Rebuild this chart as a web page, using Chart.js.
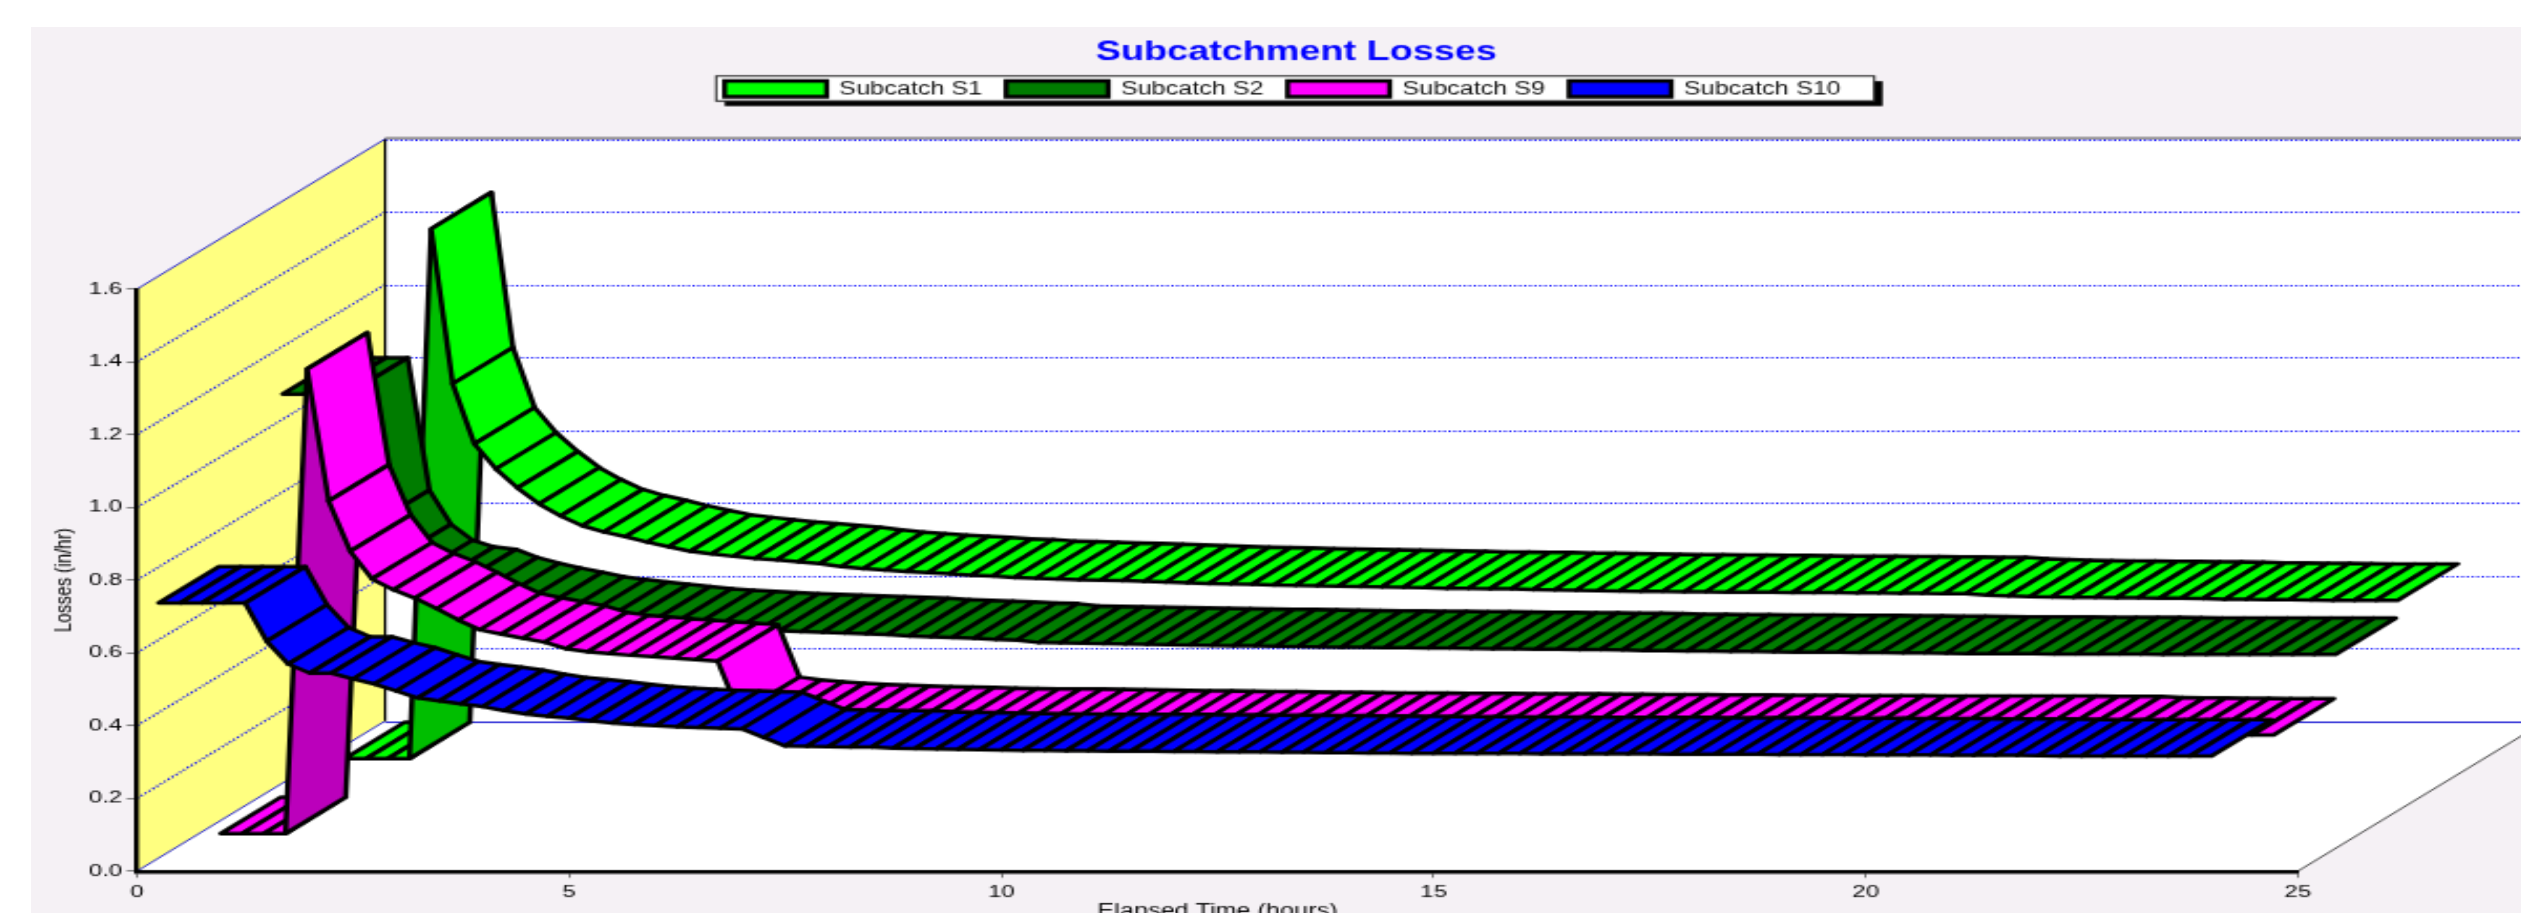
<!DOCTYPE html>
<html><head><meta charset="utf-8">
<script src="https://cdn.jsdelivr.net/npm/chart.js@4"></script>
<style>
html,body{margin:0;padding:0;width:2521px;height:913px;overflow:hidden;background:#fff}
#panel{position:absolute;left:31px;top:27px;width:2490px;height:886px;background:#F5F1F5}
#chart{position:absolute;left:31px;top:27px;transform-origin:0 0;transform:scale(2.1,1.5)}
</style></head><body>
<div id="panel"></div>
<canvas id="chart" width="1205" height="615"></canvas>
<script>
const chartTitle = 'Subcatchment Losses';
const xTitle = 'Elapsed Time (hours)';
const yTitle = 'Losses (in/hr)';
const seriesNames = ['Subcatch S1','Subcatch S2','Subcatch S9','Subcatch S10'];
const seriesColors = ['#00FF00','#007C00','#FF00FF','#0000FF'];
const sideColors = ['#00BE00','#005C00','#BB00BB','#0000BB'];
const times = [0.25,0.5,0.75,1,1.25,1.5,1.75,2,2.25,2.5,2.75,3,3.25,3.5,3.75,4,4.25,4.5,4.75,5,5.25,5.5,5.75,6,
6.25,6.5,6.75,7,7.25,7.5,7.75,8,8.25,8.5,8.75,9,9.25,9.5,9.75,10,10.25,10.5,10.75,11,11.25,11.5,11.75,12,
12.25,12.5,12.75,13,13.25,13.5,13.75,14,14.25,14.5,14.75,15,15.25,15.5,15.75,16,16.25,16.5,16.75,17,17.25,17.5,17.75,18,
18.25,18.5,18.75,19,19.25,19.5,19.75,20,20.25,20.5,20.75,21,21.25,21.5,21.75,22,22.25,22.5,22.75,23,23.25,23.5,23.75,24];
const s1 = [0,0,0,0,1.456,1.03,.865,.796,.744,.70,.667,.64,.623,.61,.595,.582,.57,.563,.556,.55,.546,.541,.536,.528,
.522,.518,.514,.511,.508,.504,.502,.498,.496,.494,.492,.491,.489,.487,.485,.483,.481,.480,.479,.477,.476,.475,.474,.473,
.472,.471,.470,.468,.468,.467,.467,.465,.464,.463,.462,.461,.460,.460,.459,.459,.458,.458,.457,.4565,.456,.456,.455,.455,
.454,.454,.453,.453,.449,.447,.445,.444,.443,.443,.442,.442,.441,.441,.440,.4375,.4375,.437,.437,.436,.435,.435,.435,.435];
const s2 = [1.105,1.105,1.105,1.105,.741,.647,.603,.585,.578,.556,.54,.527,.515,.503,.495,.488,.482,.476,.47,.466,.462,.459,.456,.454,
.452,.45,.448,.446,.444,.44,.438,.436,.434,.431,.429,.422,.421,.42,.419,.418,.417,.416,.415,.414,.413,.413,.412,.411,
.41,.409,.409,.408,.408,.407,.407,.406,.405,.405,.404,.404,.403,.403,.402,.400,.400,.399,.399,.398,.398,.397,.396,.396,
.396,.395,.395,.394,.394,.393,.392,.392,.392,.392,.391,.391,.391,.391,.390,.3895,.3895,.3895,.3895,.3895,.3895,.3895,.3895,.3895];
const s9 = [0,0,0,0,1.277,.914,.776,.70,.67,.647,.618,.587,.56,.548,.537,.526,.508,.50,.495,.49,.486,.482,.478,.474,
.33,.322,.317,.313,.31,.308,.306,.304,.303,.3015,.30,.299,.298,.2975,.297,.296,.295,.294,.293,.2925,.292,.291,.2905,.29,
.289,.288,.288,.287,.2865,.286,.286,.285,.285,.285,.2845,.2845,.284,.284,.283,.283,.282,.282,.282,.281,.281,.281,.28,.28,
.28,.279,.279,.279,.279,.278,.278,.278,.278,.278,.278,.278,.278,.277,.277,.277,.274,.273,.273,.272,.272,.271,.271,.271];
const s10 = [.737,.737,.737,.737,.737,.632,.569,.544,.544,.528,.514,.495,.476,.468,.460,.452,.441,.432,.426,.42,.413,.407,.403,.40,
.397,.395,.393,.391,.367,.344,.343,.342,.341,.341,.338,.337,.336,.335,.334,.333,.332,.332,.331,.331,.33,.33,.33,.329,
.329,.328,.328,.328,.327,.327,.326,.326,.325,.325,.324,.324,.324,.323,.323,.323,.322,.322,.322,.322,.322,.322,.321,.321,
.321,.321,.321,.32,.32,.32,.32,.319,.319,.319,.319,.318,.318,.318,.318,.317,.316,.316,.316,.316,.316,.316,.316,.316];
const allSeries = [s1,s2,s9,s10];
const depthStart = [0.75,0.5,0.25,0];
const depthStep = 0.243;
const depthHours = 2.869;
const depthValue = 0.4124;
const gridLevels = [0.2,0.4,0.6,0.8,1.0,1.2,1.4];
const xMax = 25, yMax = 1.6;

function project(c,t,v,z){return [c.scales.x.getPixelForValue(t+z*depthHours),c.scales.y.getPixelForValue(v+z*depthValue)];}
function poly(ctx,pts){ctx.beginPath();pts.forEach((p,i)=>i?ctx.lineTo(p[0],p[1]):ctx.moveTo(p[0],p[1]));ctx.closePath();}
function seg(ctx,a,b){ctx.beginPath();ctx.moveTo(a[0],a[1]);ctx.lineTo(b[0],b[1]);ctx.stroke();}
function snap(p){return [p[0],Math.round(p[1])+0.5];}

const scene = {
  id:'scene',
  beforeInit(chart){
    const fit = chart.legend.fit;
    chart.legend.fit = function(){
      fit.call(this);
      this.height = 150.8;
      if(this.lineWidths) this.lineWidths[0] += 13;
    };
  },
  beforeDraw(chart){
    const ctx = chart.ctx, P=(t,v,z)=>project(chart,t,v,z);
    ctx.save();
    // legend frame and shadow
    const hb = chart.legend.legendHitBoxes;
    if(hb && hb.length){
      const last = hb[hb.length-1];
      const L=hb[0].left-4, R=last.left+last.width+16, T=hb[0].top-2.6, B=T+16.6;
      ctx.fillStyle='#000';ctx.fillRect(L+4,T+3.4,R-L,B-T);
      ctx.fillStyle='#fff';ctx.fillRect(L,T,R-L,B-T);
      ctx.strokeStyle='#222';ctx.lineWidth=1;ctx.strokeRect(L,T,R-L,B-T);
    }
    // floor and back wall
    ctx.fillStyle='#fff';
    poly(ctx,[P(0,0,0),P(xMax,0,0),P(xMax,0,1),P(0,0,1)]);ctx.fill();
    poly(ctx,[P(0,0,1),P(xMax,0,1),P(xMax,yMax,1),P(0,yMax,1)]);ctx.fill();
    // side wall
    ctx.fillStyle='#FFFF80';
    poly(ctx,[P(0,0,0),P(0,yMax,0),P(0,yMax,1),P(0,0,1)]);ctx.fill();
    // dotted grid
    ctx.strokeStyle='#0000FF';ctx.lineWidth=1.2;ctx.setLineDash([1.1,1.3]);
    gridLevels.forEach(v=>{seg(ctx,P(0,v,0),P(0,v,1));seg(ctx,snap(P(0,v,1)),snap(P(xMax,v,1)));});
    seg(ctx,snap(P(0,yMax,1)),snap(P(xMax,yMax,1)));
    ctx.setLineDash([]);
    // frame lines
    ctx.lineWidth=0.9;ctx.strokeStyle='#1010D0';
    seg(ctx,P(0,yMax,0),P(0,yMax,1));
    seg(ctx,P(0,0,0),P(0,0,1));
    seg(ctx,snap(P(0,0,1)),snap(P(xMax,0,1)));
    ctx.strokeStyle='#333';
    seg(ctx,P(xMax,0,0),P(xMax,0,1));
    ctx.strokeStyle='#000';ctx.lineWidth=1.2;
    seg(ctx,P(0,0,1),P(0,yMax,1));
    ctx.lineWidth=0.7;
    const a=P(0,yMax,1),b=P(xMax,yMax,1);seg(ctx,[a[0],a[1]-0.6],[b[0],b[1]-0.6]);
    ctx.restore();
  },
  afterDatasetsDraw(chart){
    const ctx=chart.ctx, P=(t,v,z)=>project(chart,t,v,z);
    ctx.save();
    ctx.lineJoin='round';ctx.lineWidth=2.5;ctx.strokeStyle='#000';
    allSeries.forEach((vals,k)=>{
      const z0=depthStart[k], z1=z0+depthStep;
      for(let i=0;i<vals.length-1;i++){
        poly(ctx,[P(times[i],vals[i],z0),P(times[i+1],vals[i+1],z0),P(times[i+1],vals[i+1],z1),P(times[i],vals[i],z1)]);
        ctx.fillStyle = vals[i+1]>vals[i] ? sideColors[k] : seriesColors[k];
        ctx.fill();ctx.stroke();
      }
    });
    ctx.restore();
  }
};

new Chart(document.getElementById('chart'),{
  type:'line',
  data:{datasets:seriesNames.map((n,k)=>({
    label:n,
    data:times.map((t,i)=>({x:t,y:allSeries[k][i]})),
    backgroundColor:seriesColors[k],borderColor:'#000',borderWidth:2.4,
    showLine:false,pointRadius:0,pointHoverRadius:0
  }))},
  options:{
    responsive:false,animation:false,devicePixelRatio:1,
    events:[],
    layout:{padding:0},
    plugins:{
      tooltip:{enabled:false},
      title:{display:true,text:chartTitle,color:'#0000FF',
        font:{family:'"Liberation Sans"',size:18,weight:'bold',lineHeight:1},
        padding:{top:8.3,bottom:-2.4}},
      legend:{display:true,position:'top',
        labels:{color:'#111',boxWidth:48.6,boxHeight:10.5,padding:11.4,
          font:{family:'"Liberation Sans"',size:12}}}
    },
    scales:{
      x:{type:'linear',min:0,max:xMax,
        afterFit(s){s.height=52.3;},
        afterBuildTicks(s){s.ticks=[0,5,10,15,20,25].map(v=>({value:v}));},
        grid:{display:true,drawOnChartArea:false,drawTicks:true,tickLength:4.5,tickColor:'#777',lineWidth:1},
        border:{display:true,color:'#000',width:2.4},
        ticks:{color:'#000',padding:2.6,maxRotation:0,font:{family:'"Liberation Sans"',size:11.5}},
        title:{display:true,text:xTitle,color:'#000',font:{family:'"Liberation Sans"',size:12,lineHeight:1.2},padding:{top:0,bottom:17.8}}
      },
      y:{type:'linear',min:0,max:yMax,position:'left',
        afterFit(s){s.width=50.5;},
        afterBuildTicks(s){s.ticks=[0,.2,.4,.6,.8,1,1.2,1.4,1.6].map(v=>({value:v}));},
        grid:{display:true,drawOnChartArea:false,drawTicks:true,tickLength:5,tickColor:'#777',lineWidth:1},
        border:{display:true,color:'#000',width:2.4},
        ticks:{color:'#000',padding:2,font:{family:'"Liberation Sans"',size:11.5},callback:v=>Number(v).toFixed(1)},
        title:{display:true,text:yTitle,color:'#000',font:{family:'"Liberation Sans"',size:11.5,lineHeight:1.2},padding:{top:9.4,bottom:0}}
      },
      y2:{type:'linear',position:'right',min:0,max:1,
        afterFit(s){s.width=125.5;},
        grid:{display:false},border:{display:false},ticks:{display:false},title:{display:false}
      }
    }
  },
  plugins:[scene]
});
</script>
</body></html>
